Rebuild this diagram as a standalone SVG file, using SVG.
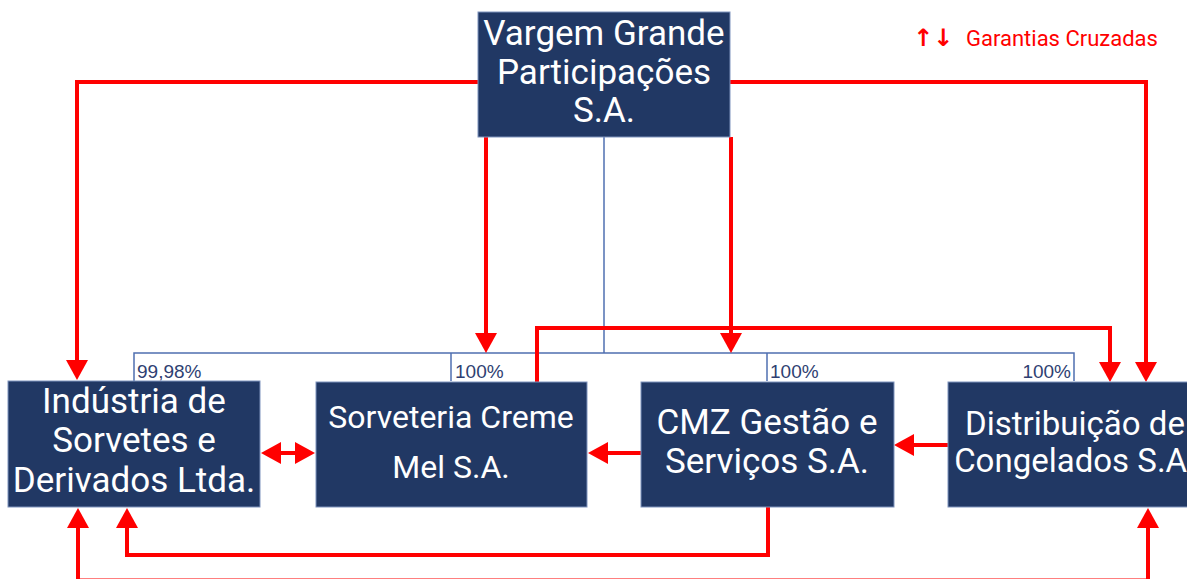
<svg xmlns="http://www.w3.org/2000/svg" width="1187" height="579" viewBox="0 0 1187 579">
<style>
.box{fill:#213864;stroke:#7f93bd;stroke-width:1}
.t{font-family:Roboto,"Liberation Sans",sans-serif;fill:#ffffff;text-anchor:middle}
.red{fill:none;stroke:#ff0000;stroke-width:4}
.blue{fill:none;stroke:#4f6fb0;stroke-width:1.5}
.pct{font-family:"Liberation Sans",Arial,sans-serif;font-size:19px;fill:#2f3f72}
</style>
<defs>
<marker id="ah" markerUnits="userSpaceOnUse" markerWidth="20" markerHeight="22" refX="10" refY="11" orient="auto-start-reverse" viewBox="0 0 20 22">
<path d="M0,0 L20,11 L0,22 z" fill="#ff0000"/>
</marker>
</defs>
<rect width="1187" height="579" fill="#ffffff"/>
<g id="connectors">
<path class="blue" d="M604,137 V353"/>
<path class="blue" d="M134,381 V353 H1074 V381"/>
<path class="blue" d="M451,353 V381"/>
<path class="blue" d="M767,353 V381"/>
<path class="red" d="M478,82 H77 V370" marker-end="url(#ah)"/>
<path class="red" d="M730,82 H1146 V372" marker-end="url(#ah)"/>
<path class="red" d="M486,137 V343" marker-end="url(#ah)"/>
<path class="red" d="M731,137 V343" marker-end="url(#ah)"/>
<path class="red" d="M537,382 V328 H1110 V372" marker-end="url(#ah)"/>
<path class="red" d="M271,453 H305" marker-start="url(#ah)" marker-end="url(#ah)"/>
<path class="red" d="M641,453 H598" marker-end="url(#ah)"/>
<path class="red" d="M948,445 H904" marker-end="url(#ah)"/>
<path class="red" d="M768,507 V555 H127 V518" marker-end="url(#ah)"/>
<path class="red" d="M78,518 V580.5 H1148 V518" marker-start="url(#ah)" marker-end="url(#ah)"/>
</g>
<g id="labels">
<text class="pct" x="137" y="378">99,98%</text>
<text class="pct" x="455" y="378">100%</text>
<text class="pct" x="770" y="378">100%</text>
<text class="pct" x="1071" y="378" text-anchor="end">100%</text>
</g>
<g id="legend">
<text x="913" y="46" font-family="DejaVu Sans,sans-serif" font-size="24" font-weight="bold" fill="#ff0000">↑↓</text>
<text x="966" y="46" font-family="Roboto,'Liberation Sans',sans-serif" font-size="22" fill="#ff0000">Garantias Cruzadas</text>
</g>
<g id="vargem">
<rect class="box" x="478" y="12" width="252" height="125"/>
<text class="t" font-size="35"><tspan x="604" y="45">Vargem Grande</tspan><tspan x="604" y="84">Participações</tspan><tspan x="604" y="122">S.A.</tspan></text>
</g>
<g id="industria">
<rect class="box" x="8" y="381" width="252" height="126"/>
<text class="t" font-size="35"><tspan x="134" y="413">Indústria de</tspan><tspan x="134" y="452">Sorvetes e</tspan><tspan x="134" y="492">Derivados Ltda.</tspan></text>
</g>
<g id="sorveteria">
<rect class="box" x="316" y="382" width="271" height="125"/>
<text class="t" font-size="32"><tspan x="451" y="428">Sorveteria Creme</tspan><tspan x="451" y="478">Mel S.A.</tspan></text>
</g>
<g id="cmz">
<rect class="box" x="641" y="382" width="253" height="125"/>
<text class="t" font-size="35"><tspan x="767" y="434">CMZ Gestão e</tspan><tspan x="767" y="473">Serviços S.A.</tspan></text>
</g>
<g id="distribuicao">
<rect class="box" x="948" y="382" width="254" height="125"/>
<text class="t" font-size="33"><tspan x="1075" y="435">Distribuição de</tspan><tspan x="1075" y="472">Congelados S.A.</tspan></text>
</g>
</svg>
